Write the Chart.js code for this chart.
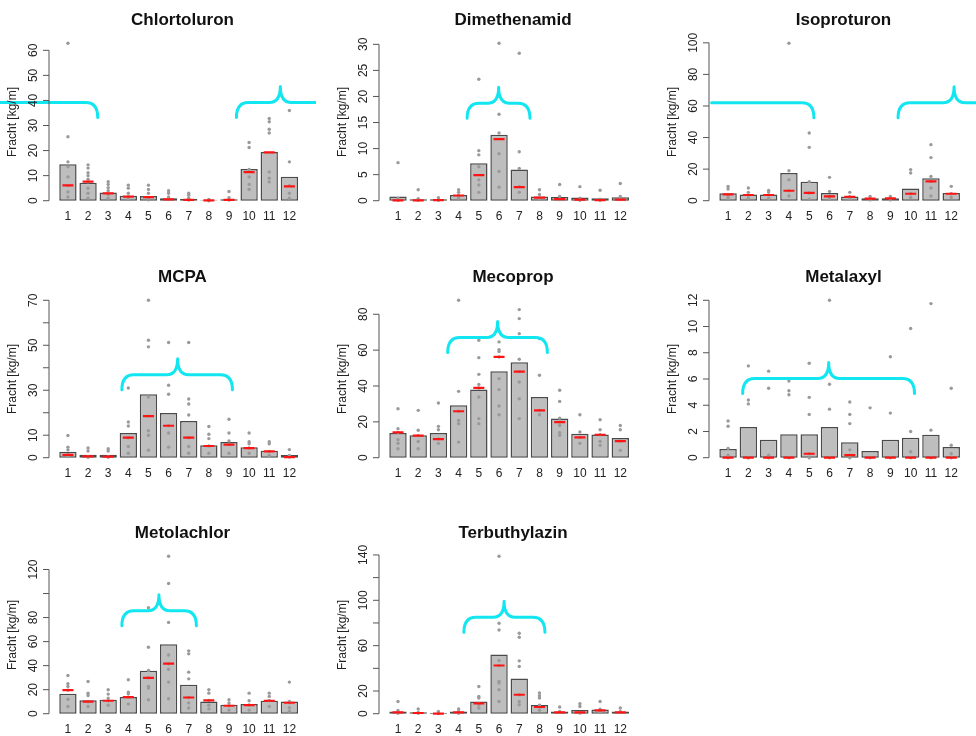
<!DOCTYPE html>
<html lang="de">
<head>
<meta charset="utf-8">
<title>Monatsfrachten Pflanzenschutzmittel</title>
<script src="https://cdn.jsdelivr.net/npm/chart.js@4.4.1/dist/chart.umd.min.js"></script>
<style>
  html, body { margin: 0; padding: 0; background: #fff; }
  body { position: relative; width: 976px; height: 736px; overflow: hidden; }
  canvas { position: absolute; }
</style>
</head>
<body>
<script>
// Monate (x-Achse)
const months = [1, 2, 3, 4, 5, 6, 7, 8, 9, 10, 11, 12];
const monthLabels = ['1', '2', '3', '4', '5', '6', '7', '8', '9', '10', '11', '12'];

// Chlortoluron
const chlortoluronMean = [14.5, 7.2, 3.3, 2.0, 1.9, 1.0, 0.7, 0.2, 0.6, 12.6, 19.4, 9.6];
const chlortoluronMedian = [6.1, 7.6, 2.9, 1.6, 1.4, 0.5, 0.3, 0.1, 0.3, 11.4, 19.3, 5.7];
const chlortoluronLoads = [
  [62.8, 25.5, 15.5, 13.5, 9.5, 6, 3.5, 1.5],
  [14.3, 13, 11.2, 10, 8.6, 7.5, 5, 3, 1],
  [7.6, 6.5, 5.2, 4, 2.5, 1],
  [6.2, 5, 3, 1.5, 0.5],
  [6.2, 4.5, 3, 1, 0.4],
  [4, 3, 1.5, 0.5],
  [3, 2.2, 1, 0.3],
  [0.5, 0.2, 0],
  [3.7, 1.2, 0.3],
  [23.2, 21.2, 12.5, 9.5, 6.5, 4.5],
  [32.8, 31.5, 28.5, 27, 11.5, 9, 7.5],
  [36, 15.5, 6, 3, 1]
];
const chlortoluronTicks = [0, 10, 20, 30, 40, 50, 60];
const chlortoluronTickLabels = [0, 10, 20, 30, 40, 50, 60];
// [von, bis, Spitze, Höhe, Haken links, Haken rechts]
const chlortoluronPeriods = [[-3, 2.48, null, 39.2, false, true], [9.37, 13.5, 11.55, 39.2, true, false]];

// Dimethenamid
const dimethenamidMean = [0.83, 0.3, 0.3, 1.1, 7.2, 12.65, 6.0, 0.8, 0.7, 0.6, 0.45, 0.65];
const dimethenamidMedian = [0.05, 0.05, 0.1, 1.0, 4.9, 11.8, 2.6, 0.6, 0.3, 0.2, 0.1, 0.2];
const dimethenamidLoads = [
  [7.3, 0.5, 0.1],
  [2.1, 0.4, 0.1],
  [0.6, 0.2, 0.1],
  [2.1, 1.6, 1.0, 0.5],
  [23.3, 9.6, 8.8, 6.5, 4, 3, 1.6],
  [30.2, 16.6, 13, 9, 5.6, 2.6],
  [28.3, 9.4, 6.2, 2.7, 1.6],
  [2.1, 1.2, 0.4],
  [3.1, 0.8, 0.2],
  [2.7, 0.5, 0.1],
  [2.0, 0.3, 0.1],
  [3.3, 0.8, 0.2]
];
const dimethenamidTicks = [0, 5, 10, 15, 20, 25, 30];
const dimethenamidTickLabels = [0, 5, 10, 15, 20, 25, 30];
const dimethenamidPeriods = [[4.42, 7.53, 5.98, 18.7, true, true]];

// Isoproturon
const isoproturonMean = [4.65, 4.0, 4.0, 17.5, 12.0, 4.9, 2.7, 1.5, 1.5, 7.8, 14.2, 4.9];
const isoproturonMedian = [4.0, 3.6, 3.6, 6.3, 4.9, 2.7, 2.5, 1.3, 1.5, 4.4, 12.3, 4.4];
const isoproturonLoads = [
  [9, 7.4, 4, 2, 1],
  [8, 5.3, 3.5, 1.5],
  [6.5, 5.5, 3.6, 1.5],
  [99.7, 19, 13.3, 6.3, 3],
  [42.9, 33.8, 12, 4.9, 1],
  [14.8, 5.9, 2.7, 1],
  [5.3, 2.5, 1],
  [2.7, 1.3, 0.5],
  [2.7, 1.5, 0.5],
  [19.7, 17.5, 4.4, 2],
  [35.5, 27.3, 15.4, 12.3, 8, 3],
  [9.1, 4.4, 2]
];
const isoproturonTicks = [0, 20, 40, 60, 80, 100];
const isoproturonTickLabels = [0, 20, 40, 60, 80, 100];
const isoproturonPeriods = [[0.19, 5.23, null, 62, false, true], [9.38, 13.5, 12.14, 62, true, false]];

// MCPA
const mcpaMean = [2.7, 1.3, 1.3, 11.0, 28.2, 19.9, 16.3, 5.5, 7.0, 4.7, 3.1, 1.2];
const mcpaMedian = [1.3, 0.6, 0.45, 8.9, 18.5, 14.2, 8.9, 5.2, 5.8, 4.3, 2.8, 0.3];
const mcpaLoads = [
  [9.9, 4.7, 3.5, 1.3, 0.5],
  [4.3, 3, 0.6, 0.2],
  [4, 3, 0.5, 0.2],
  [31, 15.9, 14.1, 8.9, 5, 2],
  [70, 52.2, 49.3, 27, 18.5, 12, 10, 3.3],
  [51.2, 32.2, 28.2, 14.2, 11, 4.7],
  [51.2, 26.1, 23.9, 19, 8.9, 5, 2],
  [13.9, 10.4, 8.5, 5.2, 2],
  [17.1, 11, 7.4, 5.8, 2],
  [11, 7.1, 6.2, 4.3, 2],
  [7.1, 6.2, 2.8, 1],
  [3.6, 1, 0.3]
];
const mcpaTicks = [0, 10, 20, 30, 40, 50, 60, 70];
const mcpaTickLabels = [0, 10, 30, 50, 70];
const mcpaPeriods = [[3.68, 9.17, 6.45, 36.9, true, true]];

// Mecoprop
const mecopropMean = [13.8, 12.5, 13.8, 29.2, 38.0, 48.2, 53.2, 33.9, 21.8, 13.4, 13.0, 11.0];
const mecopropMedian = [14.1, 12.3, 10.4, 25.9, 38.9, 56.2, 48, 26.4, 19.9, 11.3, 12.8, 9.3];
const mecopropLoads = [
  [27.3, 16.2, 14.1, 10, 8, 5],
  [26.4, 15.3, 12.3, 9, 5],
  [30.5, 17.5, 15.6, 10.4, 8],
  [87.8, 37, 25.9, 20.8, 19, 8.7],
  [65.5, 55.8, 46.5, 40.9, 38.9, 33.9, 21.8, 19],
  [64.6, 60.3, 59.2, 56.2, 44.1, 38, 28.8, 24],
  [82.6, 77.6, 69.2, 54.9, 48, 42.2, 32.9, 21.8],
  [66.4, 46, 26.4, 24],
  [37.6, 31.4, 22, 19.9, 18, 14, 12.5],
  [24, 14.3, 11.3, 8],
  [21.2, 15.6, 12.8, 9, 6.9],
  [18, 15.6, 9.3, 4.1]
];
const mecopropTicks = [0, 20, 40, 60, 80];
const mecopropTickLabels = [0, 20, 40, 60, 80];
const mecopropPeriods = [[3.46, 8.39, 5.93, 67, true, true]];

// Metalaxyl
const metalaxylMean = [0.66, 2.34, 1.37, 1.78, 1.78, 2.34, 1.17, 0.51, 1.37, 1.53, 1.75, 0.81];
const metalaxylMedian = [0, 0, 0, 0, 0.3, 0, 0.2, 0, 0, 0, 0, 0];
const metalaxylLoads = [
  [2.8, 2.4, 0.7, 0.2, 0],
  [7.0, 4.4, 4.1, 0, 0],
  [6.6, 5.3, 0.2, 0],
  [5.85, 5.1, 4.8, 0],
  [7.2, 4.6, 3.3, 0.3, 0],
  [12, 5.6, 3.7, 0],
  [4.25, 3.3, 2.6, 0.6, 0.2, 0],
  [3.8, 0],
  [7.7, 3.4, 0],
  [9.85, 2.0, 0.45, 0],
  [11.75, 2.1, 0],
  [5.3, 0.95, 0.3, 0]
];
const metalaxylTicks = [0, 2, 4, 6, 8, 10, 12];
const metalaxylTickLabels = [0, 2, 4, 6, 8, 10, 12];
const metalaxylPeriods = [[1.72, 10.19, 5.96, 6.03, true, true]];

// Metolachlor
const metolachlorMean = [16.6, 11.3, 11.6, 13.8, 35.7, 57.8, 24.1, 10.2, 7.5, 8.0, 10.8, 10.2];
const metolachlorMedian = [19.6, 10, 10.8, 13.8, 29.9, 41.7, 13.5, 11.1, 6.6, 7.2, 10.8, 9.1];
const metolachlorLoads = [
  [31.8, 24.9, 22.7, 19.6, 12, 6],
  [26.8, 17.1, 15.2, 10, 6],
  [19.9, 16.3, 13, 10.8, 7],
  [28.2, 18, 16.6, 13.8, 8],
  [88.2, 55.3, 36, 29.9, 22.7, 21.3, 11.6],
  [131, 108.4, 76, 48.9, 41.5, 37, 26.3, 12.4],
  [52.3, 49.8, 34.6, 29, 13.5, 9, 4.7],
  [19.9, 17.1, 11.1, 7, 4],
  [11.6, 9, 6.6, 3],
  [17.1, 10.8, 7.2, 3],
  [17.1, 14.4, 10.8, 6],
  [26.3, 10.2, 9.1, 5, 2]
];
const metolachlorTicks = [0, 20, 40, 60, 80, 100, 120];
const metolachlorTickLabels = [0, 20, 40, 60, 80, 120];
const metolachlorPeriods = [[3.68, 7.38, 5.52, 85.7, true, true]];

// Terbuthylazin
const terbuthylazinMean = [2.0, 1.2, 0.6, 2.0, 10.8, 52.1, 31.0, 7.6, 2.0, 3.2, 3.8, 2.0];
const terbuthylazinMedian = [1.2, 0.6, 0.1, 1.2, 9.1, 42.5, 16.7, 5.9, 1.2, 1.2, 2.9, 1.2];
const terbuthylazinLoads = [
  [10.8, 2.9, 1.2, 0.3],
  [4.1, 1.2, 0.3],
  [2.0, 0.5, 0.1],
  [4.1, 2.0, 1.2, 0.3],
  [24, 15.2, 13.8, 9.1, 7.9, 5],
  [138.8, 79.7, 73.8, 46.9, 42.5, 28.4, 27, 21.1, 10.8],
  [70.9, 67.4, 46.6, 41.6, 16.7, 10.8, 7.9],
  [18.2, 15.8, 13.8, 7.6, 5.9, 3],
  [5.9, 2.0, 1.2],
  [8.8, 6.4, 1.2, 0.5],
  [10.8, 4, 2.9, 1],
  [5.0, 2.0, 1.2]
];
const terbuthylazinTicks = [0, 20, 40, 60, 80, 100, 120, 140];
const terbuthylazinTickLabels = [0, 20, 60, 100, 140];
const terbuthylazinPeriods = [[4.26, 8.27, 6.25, 85, true, true]];

const substances = [
  { name: 'Chlortoluron', mean: chlortoluronMean, median: chlortoluronMedian, loads: chlortoluronLoads, ticks: chlortoluronTicks, tickLabels: chlortoluronTickLabels, periods: chlortoluronPeriods },
  { name: 'Dimethenamid', mean: dimethenamidMean, median: dimethenamidMedian, loads: dimethenamidLoads, ticks: dimethenamidTicks, tickLabels: dimethenamidTickLabels, periods: dimethenamidPeriods },
  { name: 'Isoproturon', mean: isoproturonMean, median: isoproturonMedian, loads: isoproturonLoads, ticks: isoproturonTicks, tickLabels: isoproturonTickLabels, periods: isoproturonPeriods },
  { name: 'MCPA', mean: mcpaMean, median: mcpaMedian, loads: mcpaLoads, ticks: mcpaTicks, tickLabels: mcpaTickLabels, periods: mcpaPeriods },
  { name: 'Mecoprop', mean: mecopropMean, median: mecopropMedian, loads: mecopropLoads, ticks: mecopropTicks, tickLabels: mecopropTickLabels, periods: mecopropPeriods },
  { name: 'Metalaxyl', mean: metalaxylMean, median: metalaxylMedian, loads: metalaxylLoads, ticks: metalaxylTicks, tickLabels: metalaxylTickLabels, periods: metalaxylPeriods },
  { name: 'Metolachlor', mean: metolachlorMean, median: metolachlorMedian, loads: metolachlorLoads, ticks: metolachlorTicks, tickLabels: metolachlorTickLabels, periods: metolachlorPeriods },
  { name: 'Terbuthylazin', mean: terbuthylazinMean, median: terbuthylazinMedian, loads: terbuthylazinLoads, ticks: terbuthylazinTicks, tickLabels: terbuthylazinTickLabels, periods: terbuthylazinPeriods }
];

// Raster 3x3: Spalten (Canvas links, Breite, Abstand bis Plotbereich), Zeilen (Canvas oben)
const columns = [
  { left: 0, width: 316, plotLeft: 49 },
  { left: 325, width: 322, plotLeft: 54 },
  { left: 651, width: 327, plotLeft: 58 }
];
const rowTops = [8, 265, 521];
const PANEL_H = 225;
const FONT = '"Liberation Sans", Arial, Helvetica, sans-serif';

Chart.defaults.font.family = FONT;
Chart.defaults.color = '#222';

// y-Achse im R-Stil: Linie nur von der ersten bis zur letzten Marke, Beschriftung gedreht
function axisPlugin(ticks, labels) {
  return {
    id: 'rAxis',
    afterDraw(chart) {
      const { ctx, chartArea } = chart;
      const y = chart.scales.y;
      const x0 = chartArea.left;
      ctx.save();
      ctx.strokeStyle = '#555';
      ctx.lineWidth = 1;
      ctx.beginPath();
      ctx.moveTo(x0, y.getPixelForValue(ticks[0]));
      ctx.lineTo(x0, y.getPixelForValue(ticks[ticks.length - 1]));
      ticks.forEach(t => {
        const py = y.getPixelForValue(t);
        ctx.moveTo(x0, py);
        ctx.lineTo(x0 - 6, py);
      });
      ctx.stroke();

      ctx.fillStyle = '#222';
      ctx.font = '12px ' + FONT;
      ctx.textAlign = 'center';
      ctx.textBaseline = 'middle';
      labels.forEach(t => {
        ctx.save();
        ctx.translate(x0 - 15, y.getPixelForValue(t));
        ctx.rotate(-Math.PI / 2);
        ctx.fillText(String(t), 0, 0);
        ctx.restore();
      });
      ctx.translate(x0 - 36, (chartArea.top + chartArea.bottom) / 2);
      ctx.rotate(-Math.PI / 2);
      ctx.fillText('Fracht [kg/m]', 0, 0);
      ctx.restore();
    }
  };
}

// geschweifte Klammern über den Hauptanwendungsmonaten
function bracePlugin(periods) {
  return {
    id: 'braces',
    afterDatasetsDraw(chart) {
      const { ctx } = chart;
      const { x, y } = chart.scales;
      const hook = 15, bend = 12, tipW = 11, tipH = 16;
      ctx.save();
      ctx.strokeStyle = '#12e6f0';
      ctx.lineWidth = 3;
      ctx.lineCap = 'round';
      ctx.lineJoin = 'round';
      periods.forEach(([from, to, tip, level, hookFrom, hookTo]) => {
        const x0 = x.getPixelForValue(from);
        const x1 = x.getPixelForValue(to);
        const py = y.getPixelForValue(level);
        ctx.beginPath();
        if (hookFrom) {
          ctx.moveTo(x0, py + hook);
          ctx.quadraticCurveTo(x0, py, x0 + bend, py);
        } else {
          ctx.moveTo(x0, py);
        }
        if (tip !== null) {
          const xt = x.getPixelForValue(tip);
          ctx.lineTo(xt - tipW, py);
          ctx.quadraticCurveTo(xt, py, xt, py - tipH);
          ctx.quadraticCurveTo(xt, py, xt + tipW, py);
        }
        if (hookTo) {
          ctx.lineTo(x1 - bend, py);
          ctx.quadraticCurveTo(x1, py, x1, py + hook);
        } else {
          ctx.lineTo(x1, py);
        }
        ctx.stroke();
      });
      ctx.restore();
    }
  };
}

substances.forEach((s, i) => {
  const col = columns[i % 3];
  const canvas = document.createElement('canvas');
  canvas.width = col.width;
  canvas.height = PANEL_H;
  canvas.style.left = col.left + 'px';
  canvas.style.top = rowTops[Math.floor(i / 3)] + 'px';
  document.body.appendChild(canvas);

  const peak = Math.max(...s.mean, ...s.median, ...s.loads.flat());
  const loadPoints = s.loads.flatMap((vals, k) => vals.map(v => ({ x: months[k], y: v })));

  new Chart(canvas, {
    type: 'bar',
    data: {
      datasets: [
        {
          type: 'scatter',
          data: months.map((m, k) => ({ x: m, y: s.median[k] })),
          pointStyle: 'line',
          pointRadius: 5.5,
          pointBorderColor: '#ff1414',
          pointBorderWidth: 2.2,
          order: 1
        },
        {
          type: 'scatter',
          data: loadPoints,
          pointRadius: 1.7,
          pointBackgroundColor: '#9a9a9a',
          pointBorderWidth: 0,
          order: 2
        },
        {
          type: 'bar',
          data: months.map((m, k) => ({ x: m, y: s.mean[k] })),
          backgroundColor: '#bebebe',
          borderColor: '#4a4a4a',
          borderWidth: 1.5,
          borderSkipped: false,
          barPercentage: 0.86,
          categoryPercentage: 1,
          order: 3
        }
      ]
    },
    options: {
      responsive: false,
      devicePixelRatio: 1,
      animation: false,
      events: [],
      layout: { padding: { left: col.plotLeft, right: 0, top: 0, bottom: 0 } },
      plugins: {
        legend: { display: false },
        tooltip: { enabled: false },
        title: {
          display: true,
          text: s.name,
          color: '#111',
          font: { size: 17, weight: 'bold' },
          padding: { top: 2, bottom: 6.6 }
        }
      },
      scales: {
        x: {
          type: 'linear',
          min: 0.06,
          max: 12.94,
          offset: false,
          grid: { display: false, drawTicks: false },
          border: { display: false },
          ticks: {
            padding: 2,
            autoSkip: false,
            maxRotation: 0,
            font: { size: 12 },
            color: '#222',
            callback: (v) => monthLabels[months.indexOf(v)] ?? ''
          },
          afterBuildTicks: (scale) => { scale.ticks = months.map(m => ({ value: m })); },
          afterFit: (scale) => { scale.height = 26; }
        },
        y: {
          display: false,
          min: -0.04 * peak,
          max: 1.04 * peak
        }
      }
    },
    plugins: [axisPlugin(s.ticks, s.tickLabels), bracePlugin(s.periods)]
  });
});
</script>
</body>
</html>
